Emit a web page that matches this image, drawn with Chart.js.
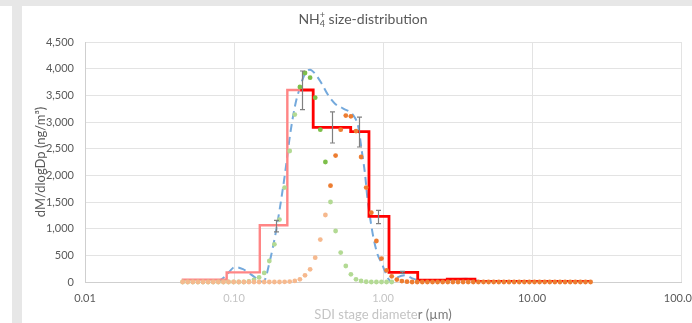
<!DOCTYPE html>
<html><head><meta charset="utf-8">
<script src="https://cdn.jsdelivr.net/npm/chart.js@4.4.1/dist/chart.umd.min.js"></script>
<style>
html,body{margin:0;padding:0;background:#fff;overflow:hidden;width:692px;height:323px}
#topband{position:absolute;left:0;top:0;width:692px;height:6px;background:#e7e7e7}
#leftstrip{position:absolute;left:12px;top:6px;width:10px;height:317px;background:#e7e7e7}
#wrap{position:absolute;left:0;top:0;width:692px;height:323px}
</style></head><body>
<div id="topband"></div><div id="leftstrip"></div>
<div id="wrap"><canvas id="c" width="692" height="323"></canvas></div>
<script>
// ---- data ----
const chartTitle = ['NH', '4', '+', ' size-distribution'];
const xTitleParts = ['SDI stage diamete', 'r (\u00b5m)'];
const yTitle = 'dM/dlogDp (ng/m\u00b3)';
const xTickValues = [0.01, 0.1, 1, 10, 100];
const xTickLabels = ['0.01', '0.10', '1.00', '10.00', '100.00'];

// SDI stage step line (bin lower edges + last upper edge) and concentrations
const stageEdges = [0.0446, 0.0893, 0.149, 0.228, 0.340, 0.607, 0.805, 1.097, 1.71, 2.70, 4.14, 24.7];
const stageConc  = [45, 180, 1063, 3600, 2900, 2820, 1230, 180, 35, 55, 10];
const stageSplitX = 0.278; // where the faded part of the step line turns solid

// error bars
const errX    = [0.19, 0.287, 0.457, 0.69, 0.93, 1.34];
const errMean = [1047, 3594, 2897, 2812, 1219, 180];
const errSd   = [109, 362, 291, 281, 125, 20];

// smoothed fit (dashed)
const fitX = [0.0784,0.0884,0.1016,0.1149,0.1280,0.1427,0.1573,0.1744,0.1884,0.2035,0.2199,0.2376,0.2567,0.2773,0.2996,0.3237,0.3497,0.3878,0.4294,0.4764,0.5416,0.6321,0.6828,0.7194,0.7570,0.7844,0.8180,0.8608,0.9156,0.9802,1.031,1.085,1.149,1.261,1.405,1.590,1.772,2.166,2.950,3.606,4.144,4.836,19.74];
const fitY = [0,120,281,240,156,60,0,406,850,1400,2031,2750,3300,3650,3907,3982,3907,3719,3500,3344,3250,3125,2906,2469,2031,1594,1219,844,531,350,200,60,0,90,125,63,30,20,45,63,31,0,0];

// log-normal modes (dotted)
const modeX = [0.0452,0.04891,0.05292,0.05726,0.06195,0.06703,0.07253,0.07847,0.08491,0.09187,
0.0994,0.1076,0.1164,0.1259,0.1362,0.1474,0.1595,0.1726,0.1867,0.2020,
0.2186,0.2365,0.2559,0.2769,0.2996,0.3242,0.3508,0.3795,0.4106,0.4443,
0.4807,0.5201,0.5628,0.6089,0.6589,0.7129,0.7713,0.8346,0.9030,0.9771,
1.057,1.144,1.238,1.339,1.449,1.568,1.696,1.835,1.986,2.149,
2.325,2.516,2.722,2.945,3.187,3.448,3.731,4.037,4.368,4.726,
5.113,5.533,5.986,6.477,7.008,7.583,8.205,8.877,9.605,10.39,
11.24,12.17,13.16,14.24,15.41,16.67,18.04,19.52,21.12,22.85,24.73];
const greenMode = [0,0,0,0,0,0,0,0,0,0,
0,0,0,10,40,85,170,394,706,1170,
1770,2456,3139,3656,3919,3832,3457,2857,2250,1500,
956,551,300,144,51,19,5,0,0,0,
0,0];
const orangeMode = [0,0,0,0,0,0,0,0,0,0,
0,0,0,0,0,0,0,0,0,0,
3,8,20,50,125,238,456,795,1256,1806,
2370,2857,3120,3107,2830,2344,1770,1300,769,439,
219,107,45,18,6,0,0,0,0,0,
0,0,0,0,0,0,0,0,0,0,
0,0,0,0,0,0,0,0,0,0,
0,0,0,0,0,0,0,0,0,0,
0];

// ---- build datasets ----
const stepPts = stageConc.map((v, i) => ({x: stageEdges[i], y: v}));
stepPts.push({x: stageEdges[stageEdges.length - 1], y: stageConc[stageConc.length - 1]});
const fadedStep = stepPts.filter(p => p.x < stageSplitX);
const solidStep = stepPts.filter(p => p.x > stageSplitX);
const splitVal = fadedStep[fadedStep.length - 1].y;
fadedStep.push({x: stageSplitX, y: splitVal});
solidStep.unshift({x: stageSplitX, y: splitVal});

const fitPts = fitX.map((x, i) => ({x, y: fitY[i]}));
const greenPts = greenMode.map((y, i) => ({x: modeX[i], y}));
const orangePts = orangeMode.map((y, i) => ({x: modeX[i], y}));

const FONT = 'Lato, "Open Sans", sans-serif';
const xTickColors = ['#595959', '#c4c4c4', '#c4c4c4', '#595959', '#595959'];

const errorBars = {
  id: 'errorBars',
  afterDatasetsDraw(chart) {
    const {ctx, scales: {x, y}} = chart;
    ctx.save();
    ctx.strokeStyle = '#808080';
    ctx.lineWidth = 1.2;
    errX.forEach((v, i) => {
      const px = Math.round(x.getPixelForValue(v)) + 0.5;
      const t = y.getPixelForValue(errMean[i] + errSd[i]);
      const b = y.getPixelForValue(errMean[i] - errSd[i]);
      ctx.beginPath();
      ctx.moveTo(px, t); ctx.lineTo(px, b);
      ctx.moveTo(px - 2.5, t); ctx.lineTo(px + 2.5, t);
      ctx.moveTo(px - 2.5, b); ctx.lineTo(px + 2.5, b);
      ctx.stroke();
    });
    ctx.restore();
  }
};

const texts = {
  id: 'texts',
  afterDraw(chart) {
    const ctx = chart.ctx, area = chart.chartArea;
    ctx.save();
    ctx.textBaseline = 'alphabetic';
    // title with sub/superscript
    const big = '14px ' + FONT, small = '9px ' + FONT;
    ctx.font = big; const w0 = ctx.measureText(chartTitle[0]).width;
    const w3 = ctx.measureText(chartTitle[3]).width;
    ctx.font = small; const w1 = ctx.measureText(chartTitle[1]).width;
    const w2 = ctx.measureText(chartTitle[2]).width;
    const total = w0 + Math.max(w1, w2) + w3;
    let tx = 363 - total / 2; const ty = 24;
    ctx.fillStyle = '#595959';
    ctx.font = big; ctx.fillText(chartTitle[0], tx, ty); tx += w0;
    ctx.font = small; ctx.fillText(chartTitle[1], tx, ty + 3); ctx.fillText(chartTitle[2], tx, ty - 6);
    tx += Math.max(w1, w2);
    ctx.font = big; ctx.fillText(chartTitle[3], tx, ty);
    // x axis title in two tones
    ctx.font = '13px ' + FONT;
    ctx.textBaseline = 'middle';
    const a = ctx.measureText(xTitleParts[0]).width, b = ctx.measureText(xTitleParts[1]).width;
    let xx = (area.left + area.right) / 2 - (a + b) / 2;
    ctx.fillStyle = '#c4c4c4'; ctx.fillText(xTitleParts[0], xx, 315);
    ctx.fillStyle = '#7a7a7a'; ctx.fillText(xTitleParts[1], xx + a, 315);
    ctx.restore();
  }
};

new Chart(document.getElementById('c'), {
  type: 'line',
  data: {
    datasets: [
      {label: 'orange mode', data: orangePts, showLine: false, pointRadius: 2.4, pointBorderWidth: 0,
       pointBackgroundColor: c => (c.raw && c.raw.x >= 0.43) ? '#ed7d31' : '#f6b98e', clip: false, order: 1},
      {label: 'green mode', data: greenPts, showLine: false, pointRadius: 2.4, pointBorderWidth: 0,
       pointBackgroundColor: c => (c.raw && c.raw.x >= 0.27 && c.raw.x <= 0.42) ? '#7dbf4a' : '#b3da94', clip: false, order: 2},
      {label: 'measured', data: solidStep, stepped: 'before', borderColor: '#ff0000', borderWidth: 2.8,
       pointRadius: 0, fill: false, order: 3},
      {label: 'measured faded', data: fadedStep, stepped: 'before', borderColor: '#ff8585', borderWidth: 2.4,
       pointRadius: 0, fill: false, order: 4},
      {label: 'fit', data: fitPts, borderColor: '#74a9dc', borderWidth: 2, borderDash: [8, 5],
       cubicInterpolationMode: 'monotone', pointRadius: 0, fill: false, order: 5}
    ]
  },
  options: {
    responsive: false, animation: false, devicePixelRatio: 1,
    layout: {padding: {left: 22, right: 11, top: 42, bottom: 0}},
    plugins: {legend: {display: false}, tooltip: {enabled: false}, title: {display: false}},
    scales: {
      x: {
        type: 'logarithmic', min: 0.01, max: 100,
        afterBuildTicks: s => { s.ticks = xTickValues.map(v => ({value: v})); },
        afterFit: s => { s.height = 41; s.paddingLeft = 0; s.paddingRight = 0; },
        ticks: {autoSkip: false, maxRotation: 0, padding: 10,
                callback: (v, i) => xTickLabels[i],
                color: c => xTickColors[c.index] || '#595959',
                font: {family: FONT, size: 11}},
        grid: {color: '#e3e3e3', drawTicks: false},
        border: {color: '#cfcfcf'}
      },
      y: {
        min: 0, max: 4500,
        afterFit: s => { s.width = 63; s.paddingTop = 0; s.paddingBottom = 0; },
        ticks: {stepSize: 500, padding: 11, color: '#595959',
                callback: v => v.toLocaleString('en-US'),
                font: {family: FONT, size: 11}},
        grid: {color: '#e3e3e3', drawTicks: false},
        border: {color: '#cfcfcf'},
        title: {display: true, text: yTitle, color: '#595959', padding: {top: 11, bottom: 0},
                font: {family: FONT, size: 13}}
      }
    }
  },
  plugins: [errorBars, texts]
});
</script>
</body></html>
